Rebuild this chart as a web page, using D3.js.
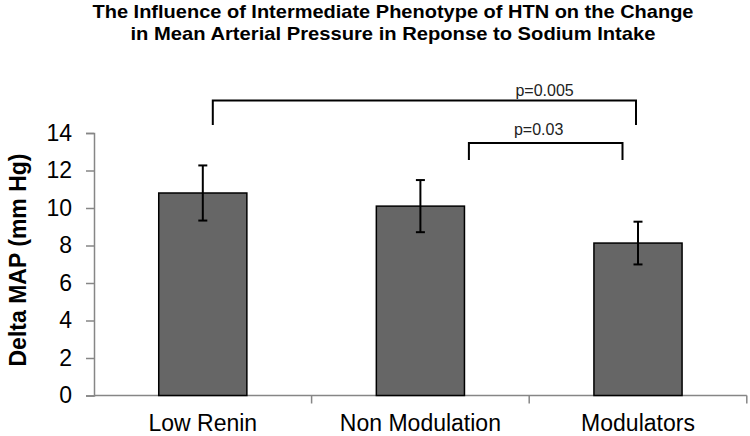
<!DOCTYPE html>
<html>
<head>
<meta charset="utf-8">
<script src="https://cdn.jsdelivr.net/npm/d3@7"></script>
<style>
  body { margin: 0; background: #fff; }
  svg { display: block; font-family: Arial, "Liberation Sans", sans-serif; }
</style>
</head>
<body>
<svg id="chart"></svg>
<script>
// chart data
const categories = ['Low Renin', 'Non Modulation', 'Modulators'];
const meanValues = [10.8, 10.1, 8.13];
const errorValues = [1.47, 1.39, 1.14];
const yTicks = [0, 2, 4, 6, 8, 10, 12, 14];
const titleLines = [
  'The Influence of Intermediate Phenotype of HTN on the Change',
  'in Mean Arterial Pressure in Reponse to Sodium Intake'
];
const comparisons = [
  { from: 'Low Renin', to: 'Modulators', label: 'p=0.005' },
  { from: 'Non Modulation', to: 'Modulators', label: 'p=0.03' }
];

const width = 750;
const height = 436;
const margin = { top: 133, right: 3.2, bottom: 40.5, left: 94 };

const svg = d3.select('#chart')
    .attr('width', width)
    .attr('height', height);

const xScale = d3.scaleBand()
    .domain(categories)
    .range([margin.left, width - margin.right])
    .paddingInner(0.595)
    .paddingOuter(0.2975);

const yScale = d3.scaleLinear()
    .domain([0, 14])
    .range([height - margin.bottom, margin.top]);

const AXIS_COLOR = '#868686';
const y0 = yScale(0);

// title (narrow bold look: compress a slightly larger font)
svg.append('g')
    .selectAll('text')
    .data(titleLines)
    .enter()
    .append('text')
    .attr('x', 393)
    .attr('y', (d, i) => 17.5 + i * 22)
    .attr('text-anchor', 'middle')
    .attr('font-size', 19)
    .attr('font-weight', 'bold')
    .attr('textLength', (d, i) => i === 0 ? 601 : 525)
    .attr('lengthAdjust', 'spacingAndGlyphs')
    .text((d) => d);

// y axis
const yAxis = svg.append('g')
    .attr('transform', `translate(${margin.left},0)`)
    .call(d3.axisLeft(yScale).tickValues(yTicks).tickSize(8).tickPadding(14));
yAxis.select('.domain').attr('stroke', AXIS_COLOR).attr('stroke-width', 1.5);
yAxis.selectAll('.tick line').attr('stroke', AXIS_COLOR).attr('stroke-width', 1.5);
yAxis.selectAll('.tick text')
    .attr('font-size', 23)
    .attr('font-family', 'Arial, "Liberation Sans", sans-serif')
    .attr('fill', '#000');

svg.append('text')
    .attr('transform', `translate(26,260) rotate(-90)`)
    .attr('text-anchor', 'middle')
    .attr('font-size', 23)
    .attr('font-weight', 'bold')
    .text('Delta MAP (mm Hg)');

// x axis
const step = xScale.step();
const xStart = xScale.range()[0];
svg.append('line')
    .attr('x1', xStart)
    .attr('x2', xScale.range()[1])
    .attr('y1', y0)
    .attr('y2', y0)
    .attr('stroke', AXIS_COLOR)
    .attr('stroke-width', 1.5);

svg.selectAll('.x-tick')
    .data(categories)
    .enter()
    .append('line')
    .attr('class', 'x-tick')
    .attr('x1', (d, i) => xStart + step * (i + 1))
    .attr('x2', (d, i) => xStart + step * (i + 1))
    .attr('y1', y0)
    .attr('y2', y0 + 8)
    .attr('stroke', AXIS_COLOR)
    .attr('stroke-width', 1.5);

svg.selectAll('.x-label')
    .data(categories)
    .enter()
    .append('text')
    .attr('class', 'x-label')
    .attr('x', (d) => xScale(d) + xScale.bandwidth() / 2)
    .attr('y', y0 + 35.5)
    .attr('text-anchor', 'middle')
    .attr('font-size', 23)
    .text((d) => d);

// bars
svg.selectAll('.bar')
    .data(categories)
    .enter()
    .append('rect')
    .attr('class', 'bar')
    .attr('x', (d) => xScale(d))
    .attr('y', (d, i) => yScale(meanValues[i]))
    .attr('width', xScale.bandwidth())
    .attr('height', (d, i) => y0 - yScale(meanValues[i]))
    .attr('fill', '#666666')
    .attr('stroke', '#000')
    .attr('stroke-width', 1.5);

// error bars
const errG = svg.append('g')
    .attr('stroke', '#000')
    .attr('stroke-width', 2);
categories.forEach((c, i) => {
  const cx = xScale(c) + xScale.bandwidth() / 2;
  const hi = yScale(meanValues[i] + errorValues[i]);
  const lo = yScale(meanValues[i] - errorValues[i]);
  errG.append('line').attr('x1', cx).attr('x2', cx).attr('y1', hi).attr('y2', lo);
  errG.append('line').attr('x1', cx - 4.5).attr('x2', cx + 4.5).attr('y1', hi).attr('y2', hi);
  errG.append('line').attr('x1', cx - 4.5).attr('x2', cx + 4.5).attr('y1', lo).attr('y2', lo);
});

// significance brackets
const bracketLayout = [
  { dx1: 10, dx2: -2, top: 15.73, bottom: 14.43, labelAt: 0.784, labelGap: 5 },
  { dx1: 48.5, dx2: -15.5, top: 13.47, bottom: 12.56, labelAt: 0.454, labelGap: 8 }
];
comparisons.forEach((cmp, i) => {
  const lay = bracketLayout[i];
  const x1 = xScale(cmp.from) + xScale.bandwidth() / 2 + lay.dx1;
  const x2 = xScale(cmp.to) + xScale.bandwidth() / 2 + lay.dx2;
  const yt = yScale(lay.top);
  const yb = yScale(lay.bottom);
  svg.append('path')
      .attr('d', `M${x1},${yb}V${yt}H${x2}V${yb}`)
      .attr('fill', 'none')
      .attr('stroke', '#000')
      .attr('stroke-width', 2);
  svg.append('text')
      .attr('x', x1 + (x2 - x1) * lay.labelAt)
      .attr('y', yt - lay.labelGap)
      .attr('text-anchor', 'middle')
      .attr('font-size', 16)
      .attr('fill', '#222')
      .text(cmp.label);
});
</script>
</body>
</html>
